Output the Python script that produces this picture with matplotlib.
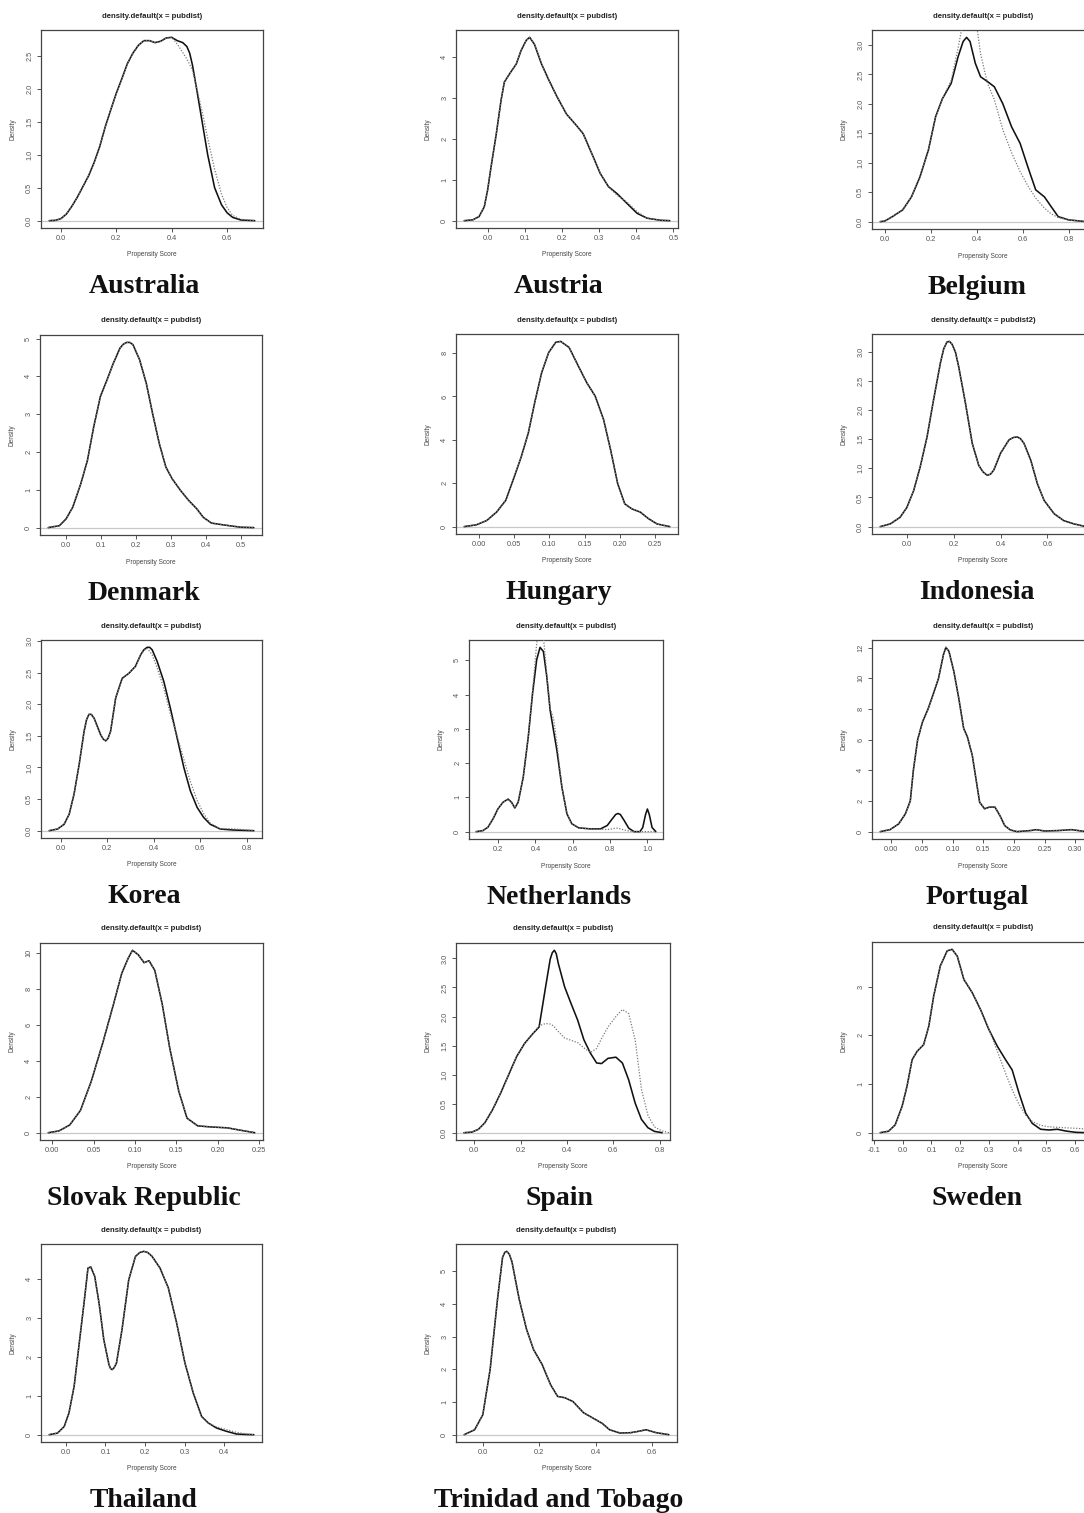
import matplotlib
matplotlib.use("Agg")
import matplotlib.pyplot as plt

W, H, DPI = 1084, 1513, 100

# ---------------- data ----------------
AUS_X = [-0.042, -0.02, 0.0, 0.02, 0.04, 0.06, 0.08, 0.10, 0.12, 0.14, 0.16, 0.18, 0.20, 0.22, 0.24, 0.26,
         0.28, 0.30, 0.32, 0.34, 0.36, 0.38, 0.40, 0.42, 0.44, 0.455, 0.465, 0.475, 0.49, 0.51, 0.53, 0.555,
         0.58, 0.60, 0.62, 0.65, 0.70]
AUS_SOLID = [0.0, 0.005, 0.03, 0.1, 0.22, 0.36, 0.52, 0.68, 0.88, 1.12, 1.42, 1.68, 1.93, 2.15, 2.38, 2.54,
             2.66, 2.73, 2.73, 2.70, 2.72, 2.77, 2.78, 2.73, 2.70, 2.64, 2.54, 2.36, 2.0, 1.5, 1.0, 0.5,
             0.24, 0.12, 0.05, 0.01, 0.0]
AUS_DOT = [0.0, 0.005, 0.03, 0.1, 0.22, 0.36, 0.52, 0.68, 0.88, 1.12, 1.42, 1.68, 1.93, 2.15, 2.38, 2.54,
           2.66, 2.73, 2.73, 2.70, 2.72, 2.77, 2.78, 2.68, 2.55, 2.45, 2.37, 2.28, 2.02, 1.65, 1.25, 0.78,
           0.40, 0.20, 0.08, 0.02, 0.0]

AUT_X = [-0.063, -0.04, -0.023, -0.009, 0.0, 0.009, 0.023, 0.036, 0.045, 0.059, 0.077, 0.09, 0.104, 0.113,
         0.126, 0.145, 0.163, 0.185, 0.212, 0.239, 0.257, 0.28, 0.303, 0.325, 0.348, 0.375, 0.402, 0.429,
         0.465, 0.49]
AUT_SOLID = [0.0, 0.02, 0.1, 0.34, 0.75, 1.3, 2.1, 2.93, 3.38, 3.58, 3.82, 4.15, 4.4, 4.47, 4.3, 3.82, 3.46,
             3.05, 2.6, 2.32, 2.12, 1.64, 1.15, 0.83, 0.66, 0.42, 0.18, 0.06, 0.01, 0.0]
AUT_DOT = [0.0, 0.02, 0.1, 0.34, 0.75, 1.3, 2.1, 2.93, 3.38, 3.58, 3.82, 4.15, 4.4, 4.47, 4.3, 3.82, 3.46,
           3.05, 2.6, 2.32, 2.12, 1.64, 1.15, 0.83, 0.62, 0.45, 0.22, 0.06, 0.01, 0.0]

BEL_X = [-0.02, 0.0, 0.033, 0.078, 0.116, 0.153, 0.19, 0.221, 0.251, 0.289, 0.319, 0.341, 0.356, 0.371,
         0.394, 0.417, 0.447, 0.477, 0.514, 0.552, 0.589, 0.627, 0.657, 0.695, 0.725, 0.755, 0.8, 0.875]
BEL_SOLID = [0.0, 0.01, 0.085, 0.2, 0.42, 0.76, 1.22, 1.78, 2.09, 2.35, 2.8, 3.06, 3.13, 3.06, 2.69, 2.46,
             2.38, 2.29, 2.0, 1.61, 1.33, 0.88, 0.54, 0.42, 0.25, 0.085, 0.03, 0.0]
BEL_DOT = [0.0, 0.01, 0.085, 0.2, 0.42, 0.76, 1.22, 1.78, 2.09, 2.4, 2.95, 3.4, 3.7, 3.75, 3.5, 2.85, 2.35,
           2.07, 1.56, 1.17, 0.85, 0.58, 0.40, 0.23, 0.13, 0.07, 0.03, 0.0]

DEN_X = [-0.051, -0.019, 0.0, 0.019, 0.042, 0.061, 0.079, 0.098, 0.117, 0.135, 0.154, 0.163, 0.173, 0.182,
         0.191, 0.21, 0.229, 0.247, 0.266, 0.285, 0.303, 0.327, 0.35, 0.373, 0.392, 0.415, 0.443, 0.466,
         0.499, 0.536]
DEN_SOLID = [0.0, 0.05, 0.23, 0.54, 1.16, 1.78, 2.67, 3.47, 3.91, 4.35, 4.75, 4.85, 4.9, 4.9, 4.84, 4.44,
             3.82, 3.02, 2.23, 1.6, 1.29, 0.98, 0.72, 0.5, 0.27, 0.12, 0.08, 0.05, 0.01, 0.0]

HUN_X = [-0.021, -0.004, 0.011, 0.025, 0.038, 0.05, 0.06, 0.07, 0.079, 0.089, 0.099, 0.109, 0.116, 0.128,
         0.141, 0.153, 0.165, 0.177, 0.187, 0.197, 0.207, 0.217, 0.229, 0.241, 0.253, 0.271]
HUN_SOLID = [0.0, 0.08, 0.28, 0.67, 1.21, 2.29, 3.22, 4.31, 5.7, 7.1, 8.03, 8.5, 8.54, 8.26, 7.41, 6.64,
             6.02, 4.93, 3.53, 1.98, 1.05, 0.82, 0.67, 0.36, 0.12, 0.0]

IDN_X = [-0.114, -0.071, -0.029, 0.0, 0.029, 0.057, 0.086, 0.114, 0.143, 0.157, 0.171, 0.182, 0.193, 0.207,
         0.221, 0.25, 0.279, 0.307, 0.325, 0.343, 0.357, 0.371, 0.4, 0.436, 0.455, 0.471, 0.485, 0.5, 0.529,
         0.557, 0.586, 0.629, 0.671, 0.714, 0.764]
IDN_SOLID = [0.0, 0.046, 0.16, 0.33, 0.62, 1.03, 1.54, 2.18, 2.81, 3.05, 3.17, 3.18, 3.13, 3.0, 2.75, 2.12,
             1.43, 1.05, 0.94, 0.88, 0.9, 0.97, 1.26, 1.49, 1.53, 1.54, 1.51, 1.43, 1.14, 0.74, 0.45, 0.22,
             0.1, 0.046, 0.0]

KOR_X = [-0.05, -0.014, 0.014, 0.036, 0.057, 0.079, 0.1, 0.111, 0.121, 0.131, 0.143, 0.171, 0.182, 0.193,
         0.203, 0.214, 0.236, 0.264, 0.293, 0.321, 0.343, 0.357, 0.371, 0.382, 0.393, 0.414, 0.443, 0.471,
         0.5, 0.529, 0.557, 0.586, 0.614, 0.643, 0.686, 0.743, 0.83]
KOR_SOLID = [0.0, 0.026, 0.1, 0.26, 0.58, 1.05, 1.57, 1.76, 1.84, 1.84, 1.78, 1.52, 1.45, 1.42, 1.46, 1.57,
             2.1, 2.41, 2.49, 2.6, 2.78, 2.86, 2.9, 2.9, 2.86, 2.68, 2.36, 1.94, 1.47, 1.0, 0.63, 0.37, 0.21,
             0.1, 0.026, 0.01, 0.0]
KOR_DOT = [0.0, 0.026, 0.1, 0.26, 0.58, 1.05, 1.57, 1.76, 1.84, 1.84, 1.78, 1.52, 1.45, 1.42, 1.46, 1.57,
           2.1, 2.41, 2.49, 2.6, 2.78, 2.85, 2.88, 2.84, 2.78, 2.58, 2.25, 1.85, 1.5, 1.13, 0.78, 0.48, 0.27,
           0.12, 0.03, 0.03, 0.0]

NLD_X = [0.083, 0.119, 0.146, 0.173, 0.2, 0.227, 0.254, 0.272, 0.29, 0.308, 0.335, 0.362, 0.385, 0.407,
         0.425, 0.443, 0.461, 0.479, 0.497, 0.515, 0.542, 0.569, 0.595, 0.632, 0.695, 0.749, 0.785, 0.81,
         0.83, 0.842, 0.855, 0.875, 0.9, 0.928, 0.96, 0.975, 0.99, 1.0, 1.01, 1.025, 1.045]
NLD_SOLID = [0.0, 0.03, 0.13, 0.37, 0.67, 0.86, 0.95, 0.86, 0.69, 0.86, 1.59, 2.77, 4.04, 5.02, 5.38, 5.26,
             4.53, 3.55, 2.96, 2.38, 1.3, 0.52, 0.23, 0.11, 0.08, 0.08, 0.18, 0.36, 0.5, 0.53, 0.5, 0.33,
             0.1, 0.0, 0.0, 0.12, 0.5, 0.66, 0.5, 0.12, 0.0]
NLD_DOT = [0.0, 0.03, 0.13, 0.37, 0.67, 0.86, 0.95, 0.86, 0.69, 0.86, 1.59, 2.77, 4.1, 5.5, 6.1, 5.7, 4.6,
           3.6, 3.3, 2.6, 1.3, 0.52, 0.23, 0.11, 0.08, 0.07, 0.06, 0.08, 0.1, 0.1, 0.08, 0.05, 0.02, 0.0,
           0.0, 0.0, 0.0, 0.0, 0.0, 0.0, 0.0]

PRT_X = [-0.018, -0.002, 0.012, 0.023, 0.031, 0.036, 0.043, 0.051, 0.06, 0.068, 0.077, 0.085, 0.089, 0.094,
         0.102, 0.11, 0.118, 0.124, 0.132, 0.138, 0.144, 0.152, 0.16, 0.169, 0.177, 0.185, 0.194, 0.205,
         0.227, 0.236, 0.25, 0.272, 0.294, 0.317]
PRT_SOLID = [0.0, 0.13, 0.5, 1.16, 2.0, 4.0, 6.0, 7.17, 8.0, 8.92, 10.0, 11.54, 12.02, 11.76, 10.45, 8.7,
             6.73, 6.19, 4.98, 3.45, 1.92, 1.49, 1.6, 1.6, 1.05, 0.39, 0.11, 0.0, 0.07, 0.13, 0.04, 0.07,
             0.13, 0.0]

SVK_X = [-0.005, 0.008, 0.021, 0.034, 0.047, 0.061, 0.074, 0.084, 0.092, 0.097, 0.104, 0.111, 0.117, 0.124,
         0.133, 0.142, 0.153, 0.163, 0.176, 0.192, 0.212, 0.225, 0.245]
SVK_SOLID = [0.0, 0.1, 0.43, 1.24, 2.85, 5.0, 7.15, 8.87, 9.73, 10.15, 9.9, 9.46, 9.57, 9.03, 7.15, 4.73,
             2.31, 0.81, 0.38, 0.32, 0.27, 0.16, 0.0]

ESP_X = [-0.044, -0.01, 0.018, 0.046, 0.08, 0.114, 0.149, 0.183, 0.218, 0.252, 0.28, 0.308, 0.328, 0.337,
         0.346, 0.354, 0.363, 0.39, 0.418, 0.446, 0.473, 0.501, 0.528, 0.549, 0.577, 0.611, 0.639, 0.666,
         0.694, 0.721, 0.749, 0.777, 0.81]
ESP_SOLID = [0.0, 0.01, 0.057, 0.17, 0.4, 0.68, 1.0, 1.31, 1.54, 1.7, 1.82, 2.51, 2.99, 3.1, 3.14, 3.08, 2.91,
             2.51, 2.22, 1.94, 1.6, 1.37, 1.2, 1.19, 1.28, 1.3, 1.2, 0.91, 0.51, 0.23, 0.086, 0.023, 0.0]
ESP_DOT_X = ESP_X + [0.84]
ESP_DOT = [0.0, 0.01, 0.057, 0.17, 0.4, 0.68, 1.0, 1.31, 1.54, 1.7, 1.84, 1.88, 1.87, 1.85, 1.82, 1.78, 1.74,
           1.63, 1.59, 1.55, 1.46, 1.38, 1.45, 1.62, 1.82, 2.0, 2.12, 2.05, 1.6, 0.75, 0.3, 0.1, 0.03, 0.0]

SWE_X = [-0.078, -0.049, -0.026, -0.002, 0.015, 0.033, 0.05, 0.073, 0.091, 0.108, 0.131, 0.155, 0.172, 0.19,
         0.213, 0.242, 0.271, 0.3, 0.329, 0.358, 0.381, 0.405, 0.428, 0.451, 0.48, 0.509, 0.538, 0.567,
         0.602, 0.637]
SWE_SOLID = [0.0, 0.03, 0.16, 0.54, 0.95, 1.5, 1.67, 1.81, 2.19, 2.81, 3.43, 3.74, 3.77, 3.63, 3.15, 2.88,
             2.53, 2.12, 1.78, 1.5, 1.29, 0.81, 0.4, 0.19, 0.07, 0.055, 0.07, 0.034, 0.007, 0.0]
SWE_DOT_X = SWE_X + [0.68]
SWE_DOT = [0.0, 0.03, 0.16, 0.54, 0.95, 1.5, 1.67, 1.81, 2.19, 2.81, 3.43, 3.74, 3.77, 3.63, 3.15, 2.88,
           2.53, 2.13, 1.68, 1.22, 0.88, 0.58, 0.36, 0.23, 0.15, 0.12, 0.11, 0.1, 0.09, 0.075, 0.06]

THA_X = [-0.042, -0.021, -0.004, 0.008, 0.021, 0.033, 0.046, 0.056, 0.063, 0.073, 0.084, 0.096, 0.109,
         0.113, 0.117, 0.122, 0.128, 0.142, 0.159, 0.176, 0.187, 0.197, 0.207, 0.218, 0.238, 0.259, 0.28,
         0.301, 0.322, 0.343, 0.36, 0.381, 0.406, 0.431, 0.456, 0.475]
THA_SOLID = [0.0, 0.04, 0.21, 0.56, 1.24, 2.27, 3.38, 4.28, 4.31, 4.07, 3.38, 2.44, 1.8, 1.7, 1.67, 1.72,
             1.84, 2.7, 3.98, 4.58, 4.68, 4.71, 4.68, 4.58, 4.28, 3.77, 2.87, 1.84, 1.07, 0.47, 0.3, 0.17,
             0.086, 0.017, 0.005, 0.0]
THA_DOT = [0.0, 0.04, 0.21, 0.56, 1.24, 2.27, 3.38, 4.28, 4.31, 4.07, 3.38, 2.44, 1.8, 1.7, 1.67, 1.72,
           1.84, 2.7, 3.98, 4.58, 4.68, 4.71, 4.68, 4.58, 4.28, 3.77, 2.87, 1.84, 1.07, 0.47, 0.3, 0.2,
           0.13, 0.06, 0.02, 0.0]

TTO_X = [-0.066, -0.029, 0.0, 0.026, 0.052, 0.07, 0.078, 0.085, 0.094, 0.103, 0.129, 0.155, 0.18, 0.21,
         0.24, 0.265, 0.291, 0.32, 0.357, 0.394, 0.424, 0.449, 0.486, 0.523, 0.55, 0.578, 0.615, 0.659]
TTO_SOLID = [0.0, 0.15, 0.61, 2.0, 4.14, 5.43, 5.58, 5.61, 5.52, 5.3, 4.14, 3.22, 2.6, 2.15, 1.53, 1.17,
             1.13, 1.01, 0.67, 0.49, 0.34, 0.15, 0.05, 0.06, 0.1, 0.15, 0.06, 0.0]

COUNTRIES = ["Australia", "Austria", "Belgium", "Denmark", "Hungary", "Indonesia", "Korea", "Netherlands",
             "Portugal", "Slovak Republic", "Spain", "Sweden", "Thailand", "Trinidad and Tobago"]
TITLES = ["density.default(x = pubdist)"] * 5 + ["density.default(x = pubdist2)"] + \
         ["density.default(x = pubdist)"] * 8

X_TICKS = [[0.0, 0.2, 0.4, 0.6], [0.0, 0.1, 0.2, 0.3, 0.4, 0.5], [0.0, 0.2, 0.4, 0.6, 0.8],
           [0.0, 0.1, 0.2, 0.3, 0.4, 0.5], [0.0, 0.05, 0.10, 0.15, 0.20, 0.25], [0.0, 0.2, 0.4, 0.6],
           [0.0, 0.2, 0.4, 0.6, 0.8], [0.2, 0.4, 0.6, 0.8, 1.0],
           [0.0, 0.05, 0.10, 0.15, 0.20, 0.25, 0.30], [0.0, 0.05, 0.10, 0.15, 0.20, 0.25],
           [0.0, 0.2, 0.4, 0.6, 0.8], [-0.1, 0.0, 0.1, 0.2, 0.3, 0.4, 0.5, 0.6], [0.0, 0.1, 0.2, 0.3, 0.4],
           [0.0, 0.2, 0.4, 0.6]]
X_DEC = [1, 1, 1, 1, 2, 1, 1, 1, 2, 2, 1, 1, 1, 1]
Y_TICKS = [[0.0, 0.5, 1.0, 1.5, 2.0, 2.5], [0, 1, 2, 3, 4], [0.0, 0.5, 1.0, 1.5, 2.0, 2.5, 3.0],
           [0, 1, 2, 3, 4, 5], [0, 2, 4, 6, 8], [0.0, 0.5, 1.0, 1.5, 2.0, 2.5, 3.0],
           [0.0, 0.5, 1.0, 1.5, 2.0, 2.5, 3.0], [0, 1, 2, 3, 4, 5], [0, 2, 4, 6, 8, 10, 12],
           [0, 2, 4, 6, 8, 10], [0.0, 0.5, 1.0, 1.5, 2.0, 2.5, 3.0], [0, 1, 2, 3], [0, 1, 2, 3, 4],
           [0, 1, 2, 3, 4, 5]]
Y_DEC = [1, 0, 1, 0, 0, 1, 1, 0, 0, 0, 1, 0, 0, 0]

SERIES = [
    (AUS_X, AUS_SOLID, AUS_X, AUS_DOT),
    (AUT_X, AUT_SOLID, AUT_X, AUT_DOT),
    (BEL_X, BEL_SOLID, BEL_X, BEL_DOT),
    (DEN_X, DEN_SOLID, DEN_X, DEN_SOLID),
    (HUN_X, HUN_SOLID, HUN_X, HUN_SOLID),
    (IDN_X, IDN_SOLID, IDN_X, IDN_SOLID),
    (KOR_X, KOR_SOLID, KOR_X, KOR_DOT),
    (NLD_X, NLD_SOLID, NLD_X, NLD_DOT),
    (PRT_X, PRT_SOLID, PRT_X, PRT_SOLID),
    (SVK_X, SVK_SOLID, SVK_X, SVK_SOLID),
    (ESP_X, ESP_SOLID, ESP_DOT_X, ESP_DOT),
    (SWE_X, SWE_SOLID, SWE_DOT_X, SWE_DOT),
    (THA_X, THA_SOLID, THA_X, THA_DOT),
    (TTO_X, TTO_SOLID, TTO_X, TTO_SOLID),
]

# ---------------- layout (pixels: left, top, right, bottom) ----------------
LAYOUT = [(41, 30, 263, 228), (456, 30, 678, 228), (872, 30, 1094, 229),
          (40, 335, 262, 535), (456, 334, 678, 534), (872, 334, 1094, 534),
          (41, 640, 262, 838), (469, 640, 663, 839), (872, 640, 1094, 839),
          (40, 943, 263, 1140), (456, 943, 670, 1140), (872, 942, 1094, 1140),
          (41, 1244, 262, 1442), (456, 1244, 677, 1442)]
NAME_X = [144, 559, 977]

SANS = ["Liberation Sans", "DejaVu Sans"]
SERIF = ["Liberation Serif", "DejaVu Serif"]

fig = plt.figure(figsize=(W / DPI, H / DPI), dpi=DPI, facecolor="white")


def fx(px):
    return px / W


def fy(py):
    return 1 - py / H


for i, (name, (xs, ys, dx, dy)) in enumerate(zip(COUNTRIES, SERIES)):
    l, t, r, b = LAYOUT[i]
    ax = fig.add_axes([fx(l), fy(b), (r - l) / W, (b - t) / H])
    ax.axhline(0, color="#c8c8c8", lw=0.9, zorder=1)
    ax.plot(xs, ys, color="#111111", lw=1.15, zorder=3, solid_joinstyle="round",
            solid_capstyle="round")
    ax.plot(dx, dy, color="#7a7a7a", lw=0.9, ls=(0, (1, 1.3)), zorder=4)

    xr = max(xs) - min(xs)
    ax.set_xlim(min(xs) - 0.04 * xr, max(xs) + 0.04 * xr)
    ym = max(ys)
    ax.set_ylim(-0.04 * ym, 1.04 * ym)

    ax.set_xticks(X_TICKS[i])
    ax.set_xticklabels([f"{v:.{X_DEC[i]}f}" for v in X_TICKS[i]], fontfamily=SANS)
    ax.set_yticks(Y_TICKS[i])
    ax.set_yticklabels([f"{v:.{Y_DEC[i]}f}" for v in Y_TICKS[i]], fontfamily=SANS,
                       rotation=90, va="center")
    ax.tick_params(axis="both", direction="out", length=3.0, width=0.7, colors="#555555",
                   labelsize=5.3, labelcolor="#555555")
    ax.tick_params(axis="x", pad=2.0)
    ax.tick_params(axis="y", pad=2.6)
    for s in ax.spines.values():
        s.set_color("#444444")
        s.set_linewidth(0.9)

    cx = (l + r) / 2
    fig.text(fx(cx), fy(t - 14), TITLES[i], ha="center", va="center", fontsize=5.6,
             fontweight="bold", family=SANS, color="#222222")
    fig.text(fx(cx), fy(b + 27), "Propensity Score", ha="center", va="center", fontsize=4.7,
             family=SANS, color="#444444")
    fig.text(fx(l - 28), fy((t + b) / 2), "Density", ha="center", va="center", rotation=90,
             fontsize=4.7, family=SANS, color="#444444")
    fig.text(fx(NAME_X[i % 3]), fy(b + 65), name, ha="center", va="baseline", fontsize=20,
             fontweight="bold", family=SERIF, color="#111111")

fig.savefig("out.png", dpi=DPI, facecolor="white")
